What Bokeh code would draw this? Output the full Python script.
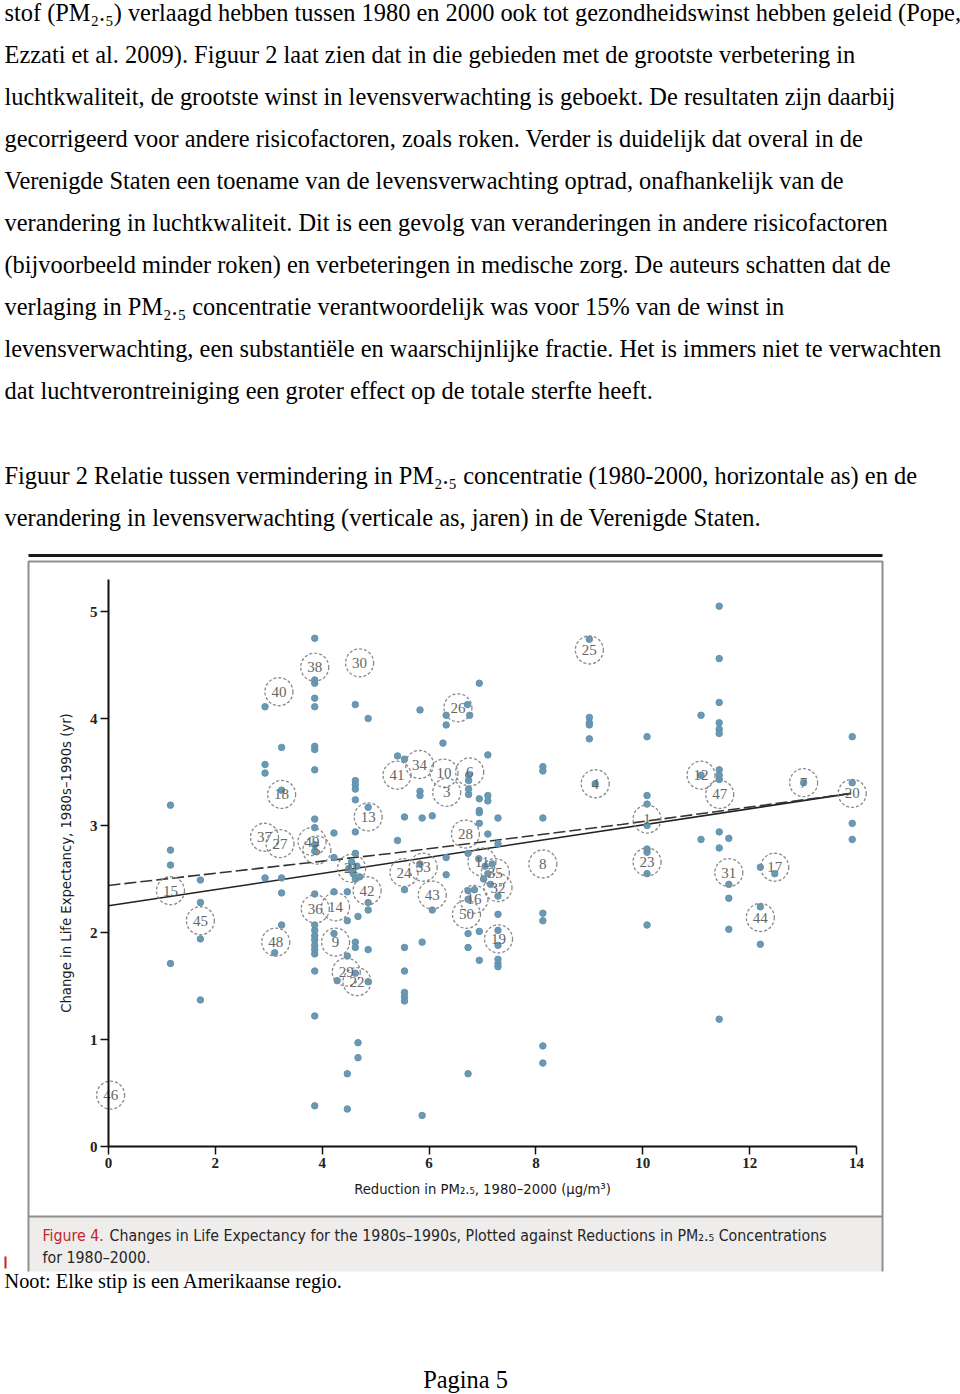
from bokeh.plotting import figure
from bokeh.models import LinearAxis, FixedTicker, Range1d, Grid
from bokeh.core.properties import value
from bokeh.embed import file_html
from bokeh.resources import INLINE

# ---------------- data ----------------
x_ticks = [0, 2, 4, 6, 8, 10, 12, 14]
y_ticks = [0, 1, 2, 3, 4, 5]

point_x = [
    1.16, 1.16, 1.16, 1.16,
    1.72, 1.72, 1.72, 1.72,
    2.93, 2.93, 2.93, 2.93,
    3.24, 3.24, 3.24, 3.24, 3.24,
    3.11,
    3.86, 3.86, 3.86, 3.86, 3.86, 3.86, 3.86, 3.86, 3.86, 3.86, 3.86, 3.86,
    3.86, 3.86, 3.86, 3.86, 3.86, 3.86, 3.86, 3.86, 3.86, 3.86, 3.86,
    4.22, 4.22, 4.22, 4.22,
    4.47, 4.47, 4.47, 4.47, 4.47,
    4.28,
    4.62, 4.62, 4.62, 4.62, 4.62, 4.62, 4.62, 4.62, 4.62, 4.62,
    4.67, 4.67, 4.67,
    4.86, 4.86, 4.86, 4.86, 4.86, 4.86,
    4.50, 4.58, 4.65, 4.70, 4.55, 4.62,
    5.41, 5.41,
    5.54, 5.54, 5.54, 5.54, 5.54, 5.54, 5.54, 5.54,
    5.83, 5.83, 5.83, 5.83,
    5.87, 5.87, 5.87,
    6.06, 6.06,
    6.26,
    6.32, 6.32, 6.32, 6.32,
    6.72, 6.76,
    6.74, 6.74, 6.74, 6.74,
    6.73, 6.73, 6.73, 6.73, 6.73, 6.73,
    6.94, 6.94, 6.94, 6.94, 6.94, 6.94, 6.94,
    7.10, 7.10, 7.10, 7.10,
    7.29, 7.29, 7.29, 7.29, 7.29, 7.29, 7.29, 7.29, 7.29,
    6.93, 7.05, 7.10, 7.18, 7.02, 7.15, 6.85,
    8.13, 8.13, 8.13, 8.13, 8.13, 8.13, 8.13,
    9.00, 9.00, 9.00, 9.00, 9.00,
    9.11,
    10.08, 10.08, 10.08, 10.08, 10.08, 10.08, 10.08, 10.08,
    11.09, 11.09, 11.09,
    11.43, 11.43, 11.43, 11.43, 11.43, 11.43, 11.43, 11.43, 11.43, 11.43, 11.43, 11.43,
    11.61, 11.61, 11.61, 11.61,
    12.20, 12.20, 12.20,
    12.47,
    13.01,
    13.92, 13.92, 13.92, 13.92,
]
point_y = [
    3.19, 2.77, 2.63, 1.71,
    2.49, 2.28, 1.94, 1.37,
    4.11, 3.57, 3.49, 2.51,
    3.73, 3.33, 2.51, 2.37, 2.07,
    1.81,
    4.75, 4.36, 4.33, 4.19, 4.11, 3.74, 3.71, 3.52, 3.06, 2.98, 2.82, 2.76,
    2.36, 2.07, 2.02, 1.97, 1.93, 1.88, 1.84, 1.80, 1.64, 1.22, 0.38,
    2.93, 2.70, 2.38, 1.99,
    2.38, 2.11, 1.78, 0.68, 0.35,
    1.55,
    4.13, 3.42, 3.38, 3.34, 3.24, 2.94, 2.74, 1.91, 1.86, 1.62,
    2.15, 0.97, 0.83,
    4.00, 3.17, 2.28, 2.21, 1.84, 1.54,
    2.60, 2.55, 2.62, 2.52, 2.66, 2.50,
    3.65, 2.86,
    3.62, 3.08, 2.40, 1.86, 1.64, 1.44, 1.40, 1.36,
    4.08, 3.32, 3.28, 2.64,
    3.07, 1.91, 0.29,
    3.09, 2.21,
    3.77,
    4.03, 3.94, 2.70, 2.54,
    4.13, 4.03,
    3.47, 3.42, 3.34, 3.29,
    2.74, 2.39, 2.31, 1.99, 1.86, 0.68,
    4.33, 3.25, 3.14, 3.12, 3.02, 2.01, 1.74,
    3.66, 3.28, 3.23, 2.92,
    3.07, 2.83, 2.34, 2.17, 2.02, 1.88, 1.75, 1.71, 1.68,
    2.69, 2.62, 2.55, 2.64, 2.50, 2.45, 2.40,
    3.55, 3.51, 3.07, 2.18, 2.11, 0.94, 0.78,
    4.74, 4.01, 3.96, 3.94, 3.81,
    3.39,
    3.83, 3.28, 3.20, 3.00, 2.78, 2.75, 2.55, 2.07,
    4.03, 3.47, 2.87,
    5.05, 4.56, 4.15, 3.96, 3.90, 3.86, 3.52, 3.47, 3.43, 2.94, 2.79, 1.19,
    2.88, 2.45, 2.32, 2.03,
    2.61, 2.24, 1.89,
    2.55,
    3.40,
    3.83, 3.40, 3.02, 2.87,
]

label_text = ["40", "38", "30", "25", "26", "18", "13", "37", "27", "49",
              "5", "21", "42", "36", "14", "48", "9", "29", "22", "15",
              "45", "46", "41", "34", "10", "6", "3", "28", "11", "35",
              "32", "24", "33", "43", "16", "50", "19", "8", "4", "1",
              "23", "12", "47", "7", "20", "31", "17", "44"]
label_x = [3.19, 3.86, 4.70, 9.00, 6.54, 3.24, 4.86, 2.92, 3.21, 3.81,
           3.90, 4.55, 4.84, 3.87, 4.25, 3.13, 4.25, 4.45, 4.65, 1.16,
           1.72, 0.04, 5.40, 5.82, 6.28, 6.76, 6.33, 6.68, 6.99, 7.24,
           7.29, 5.53, 5.89, 6.06, 6.84, 6.70, 7.30, 8.13, 9.11, 10.08,
           10.08, 11.09, 11.44, 13.01, 13.92, 11.61, 12.47, 12.20]
label_y = [4.25, 4.48, 4.52, 4.64, 4.10, 3.29, 3.08, 2.89, 2.83, 2.85,
           2.77, 2.60, 2.39, 2.22, 2.24, 1.91, 1.91, 1.63, 1.54, 2.39,
           2.11, 0.48, 3.47, 3.57, 3.49, 3.50, 3.31, 2.92, 2.66, 2.56,
           2.42, 2.56, 2.61, 2.35, 2.31, 2.17, 1.94, 2.64, 3.39, 3.06,
           2.66, 3.47, 3.29, 3.40, 3.30, 2.56, 2.61, 2.14]

fit_solid_x = [0, 13.9]
fit_solid_y = [2.25, 3.30]
fit_dashed_x = [0, 5.3, 9.6, 13.9]
fit_dashed_y = [2.44, 2.74, 3.01, 3.30]

body_lines = [
    "stof (PM₂.₅) verlaagd hebben tussen 1980 en 2000 ook tot gezondheidswinst hebben geleid (Pope,",
    "Ezzati et al. 2009). Figuur 2 laat zien dat in die gebieden met de grootste verbetering in",
    "luchtkwaliteit, de grootste winst in levensverwachting is geboekt. De resultaten zijn daarbij",
    "gecorrigeerd voor andere risicofactoren, zoals roken. Verder is duidelijk dat overal in de",
    "Verenigde Staten een toename van de levensverwachting optrad, onafhankelijk van de",
    "verandering in luchtkwaliteit. Dit is een gevolg van veranderingen in andere risicofactoren",
    "(bijvoorbeeld minder roken) en verbeteringen in medische zorg. De auteurs schatten dat de",
    "verlaging in PM₂.₅ concentratie verantwoordelijk was voor 15% van de winst in",
    "levensverwachting, een substantiële en waarschijnlijke fractie. Het is immers niet te verwachten",
    "dat luchtverontreiniging een groter effect op de totale sterfte heeft.",
]
figure_title_lines = [
    "Figuur 2 Relatie tussen vermindering in PM₂.₅ concentratie (1980-2000, horizontale as) en de",
    "verandering in levensverwachting (verticale as, jaren) in de Verenigde Staten.",
]
caption_red = "Figure 4."
caption_rest = "Changes in Life Expectancy for the 1980s–1990s, Plotted against Reductions in PM₂.₅ Concentrations"
caption_line2 = "for 1980–2000."
note_text = "Noot: Elke stip is een Amerikaanse regio."
page_text = "Pagina 5"
x_title = "Reduction in PM₂.₅, 1980–2000 (µg/m³)"
y_title = "Change in Life Expectancy, 1980s–1990s (yr)"

# ---------------- page geometry (pixel -> data) ----------------
PX_PER_X = 748 / 14.0
PX_PER_Y = 107.0


def X(px):
    return (px - 108) / PX_PER_X


def Y(py):
    return (1146 - py) / PX_PER_Y


W, H = 960, 1394
p = figure(width=W, height=H, output_backend="svg", toolbar_location=None,
           x_range=Range1d(X(0), X(W)), y_range=Range1d(Y(H), Y(0)),
           x_axis_location=None, y_axis_location=None,
           min_border=0, min_border_left=0, min_border_right=0,
           min_border_top=0, min_border_bottom=0)
p.outline_line_color = None
p.background_fill_color = "white"
p.border_fill_color = "white"
for r in list(p.center):
    if isinstance(r, Grid):
        r.visible = False

SERIF = value("Liberation Serif")
COND = value("DejaVu Sans Condensed")

# page text
body_base = [12 + 42 * i for i in range(len(body_lines))]
p.text(x=[X(4)] * len(body_lines), y=[Y(b) for b in body_base], text=body_lines,
       text_font=SERIF, text_font_size="24.4px", text_color="#000000",
       text_align="left", text_baseline="alphabetic")
title_base = [475, 517]
p.text(x=[X(4)] * 2, y=[Y(b) for b in title_base], text=figure_title_lines,
       text_font=SERIF, text_font_size="24.4px", text_color="#000000",
       text_align="left", text_baseline="alphabetic")

# figure frame
p.quad(left=[X(29)], right=[X(881)], top=[Y(1216)], bottom=[Y(1271)],
       fill_color="#efedeb", line_color=None)
p.line([X(28), X(882)], [Y(555), Y(555)], line_width=3, line_color="#1a1a1a")
p.line([X(28), X(28), X(882), X(882)], [Y(1271), Y(561), Y(561), Y(1271)],
       line_width=2, line_color="#8f8f8f")
p.line([X(28), X(882)], [Y(1216), Y(1216)], line_width=2, line_color="#8f8f8f")

# fit lines
p.line(fit_solid_x, fit_solid_y, line_width=1.6, line_color="#222222")
p.line(fit_dashed_x, fit_dashed_y, line_width=1.6, line_color="#333333",
       line_dash="12 4")

# points
p.scatter(point_x, point_y, size=6.5, marker="circle",
          fill_color="#6394b0", line_color="#6394b0", fill_alpha=0.95)

# labelled circles
p.scatter(label_x, label_y, size=28, marker="circle", fill_color=None,
          line_color="#8a8a8a", line_width=1.3, line_dash="3 2")
p.text(label_x, label_y, text=label_text, text_font=SERIF, text_font_size="15px",
       text_color="#666666", text_align="center", text_baseline="middle")

# axes
xa = LinearAxis(fixed_location=0, bounds=(0, 14), ticker=FixedTicker(ticks=x_ticks),
                axis_label=x_title)
ya = LinearAxis(fixed_location=0, bounds=(0, 5.3), ticker=FixedTicker(ticks=y_ticks),
                axis_label=y_title)
for ax in (xa, ya):
    ax.axis_line_width = 2
    ax.axis_line_color = "#111111"
    ax.major_tick_line_width = 1.5
    ax.major_tick_line_color = "#111111"
    ax.major_tick_out = 8
    ax.major_tick_in = 0
    ax.minor_tick_out = 0
    ax.minor_tick_in = 0
    ax.major_label_text_font = "Liberation Serif"
    ax.major_label_text_font_size = "15px"
    ax.major_label_text_font_style = "bold"
    ax.major_label_text_color = "#222222"
    ax.major_label_standoff = 3
    ax.axis_label_text_font = "DejaVu Sans Condensed"
    ax.axis_label_text_font_size = "14.7px"
    ax.axis_label_text_font_style = "normal"
    ax.axis_label_text_color = "#1a1a1a"
xa.axis_label_standoff = 9
ya.axis_label_standoff = 13
p.add_layout(xa, "below")
p.add_layout(ya, "left")

# caption
p.text(x=[X(42)], y=[Y(1235)], text=[caption_red], text_font=COND,
       text_font_size="15.8px", text_color="#c1272d", text_baseline="alphabetic")
p.text(x=[X(109), X(42)], y=[Y(1235), Y(1257)], text=[caption_rest, caption_line2],
       text_font=COND, text_font_size="15.8px", text_color="#262626",
       text_baseline="alphabetic")
p.line([X(5), X(5)], [Y(1256), Y(1268)], line_width=2, line_color="#d02020")

# notes
p.text(x=[X(4)], y=[Y(1280)], text=[note_text], text_font=SERIF,
       text_font_size="20.3px", text_color="#000000", text_baseline="alphabetic")
p.text(x=[X(465)], y=[Y(1379)], text=[page_text], text_font=SERIF,
       text_font_size="24.4px", text_color="#000000", text_align="center",
       text_baseline="alphabetic")

open("out.html", "w").write(file_html(p, INLINE))
